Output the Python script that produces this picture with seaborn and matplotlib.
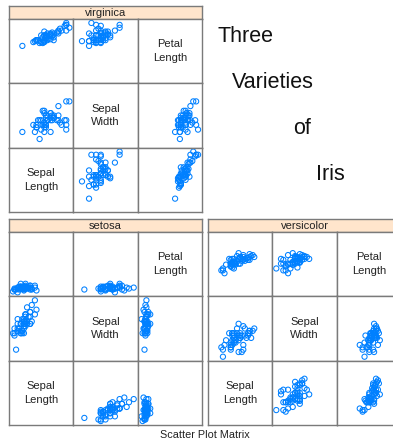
import matplotlib
matplotlib.use("Agg")
import matplotlib.pyplot as plt
import seaborn as sns
import pandas as pd

# Fisher's iris measurements (cm): first three variables, by species
setosa_sepal_length = [5.1, 4.9, 4.7, 4.6, 5.0, 5.4, 4.6, 5.0, 4.4, 4.9, 5.4, 4.8, 4.8, 4.3, 5.8, 5.7, 5.4, 5.1, 5.7, 5.1,
                       5.4, 5.1, 4.6, 5.1, 4.8, 5.0, 5.0, 5.2, 5.2, 4.7, 4.8, 5.4, 5.2, 5.5, 4.9, 5.0, 5.5, 4.9, 4.4, 5.1,
                       5.0, 4.5, 4.4, 5.0, 5.1, 4.8, 5.1, 4.6, 5.3, 5.0]
setosa_sepal_width = [3.5, 3.0, 3.2, 3.1, 3.6, 3.9, 3.4, 3.4, 2.9, 3.1, 3.7, 3.4, 3.0, 3.0, 4.0, 4.4, 3.9, 3.5, 3.8, 3.8,
                      3.4, 3.7, 3.6, 3.3, 3.4, 3.0, 3.4, 3.5, 3.4, 3.2, 3.1, 3.4, 4.1, 4.2, 3.1, 3.2, 3.5, 3.6, 3.0, 3.4,
                      3.5, 2.3, 3.2, 3.5, 3.8, 3.0, 3.8, 3.2, 3.7, 3.3]
setosa_petal_length = [1.4, 1.4, 1.3, 1.5, 1.4, 1.7, 1.4, 1.5, 1.4, 1.5, 1.5, 1.6, 1.4, 1.1, 1.2, 1.5, 1.3, 1.4, 1.7, 1.5,
                       1.7, 1.5, 1.0, 1.7, 1.9, 1.6, 1.6, 1.5, 1.4, 1.6, 1.6, 1.5, 1.5, 1.4, 1.5, 1.2, 1.3, 1.4, 1.3, 1.5,
                       1.3, 1.3, 1.3, 1.6, 1.9, 1.4, 1.6, 1.4, 1.5, 1.4]

versicolor_sepal_length = [7.0, 6.4, 6.9, 5.5, 6.5, 5.7, 6.3, 4.9, 6.6, 5.2, 5.0, 5.9, 6.0, 6.1, 5.6, 6.7, 5.6, 5.8, 6.2, 5.6,
                           5.9, 6.1, 6.3, 6.1, 6.4, 6.6, 6.8, 6.7, 6.0, 5.7, 5.5, 5.5, 5.8, 6.0, 5.4, 6.0, 6.7, 6.3, 5.6, 5.5,
                           5.5, 6.1, 5.8, 5.0, 5.6, 5.7, 5.7, 6.2, 5.1, 5.7]
versicolor_sepal_width = [3.2, 3.2, 3.1, 2.3, 2.8, 2.8, 3.3, 2.4, 2.9, 2.7, 2.0, 3.0, 2.2, 2.9, 2.9, 3.1, 3.0, 2.7, 2.2, 2.5,
                          3.2, 2.8, 2.5, 2.8, 2.9, 3.0, 2.8, 3.0, 2.9, 2.6, 2.4, 2.4, 2.7, 2.7, 3.0, 3.4, 3.1, 2.3, 3.0, 2.5,
                          2.6, 3.0, 2.6, 2.3, 2.7, 3.0, 2.9, 2.9, 2.5, 2.8]
versicolor_petal_length = [4.7, 4.5, 4.9, 4.0, 4.6, 4.5, 4.7, 3.3, 4.6, 3.9, 3.5, 4.2, 4.0, 4.7, 3.6, 4.4, 4.5, 4.1, 4.5, 3.9,
                           4.8, 4.0, 4.9, 4.7, 4.3, 4.4, 4.8, 5.0, 4.5, 3.5, 3.8, 3.7, 3.9, 5.1, 4.5, 4.5, 4.7, 4.4, 4.1, 4.0,
                           4.4, 4.6, 4.0, 3.3, 4.2, 4.2, 4.2, 4.3, 3.0, 4.1]

virginica_sepal_length = [6.3, 5.8, 7.1, 6.3, 6.5, 7.6, 4.9, 7.3, 6.7, 7.2, 6.5, 6.4, 6.8, 5.7, 5.8, 6.4, 6.5, 7.7, 7.7, 6.0,
                          6.9, 5.6, 7.7, 6.3, 6.7, 7.2, 6.2, 6.1, 6.4, 7.2, 7.4, 7.9, 6.4, 6.3, 6.1, 7.7, 6.3, 6.4, 6.0, 6.9,
                          6.7, 6.9, 5.8, 6.8, 6.7, 6.7, 6.3, 6.5, 6.2, 5.9]
virginica_sepal_width = [3.3, 2.7, 3.0, 2.9, 3.0, 3.0, 2.5, 2.9, 2.5, 3.6, 3.2, 2.7, 3.0, 2.5, 2.8, 3.2, 3.0, 3.8, 2.6, 2.2,
                         3.2, 2.8, 2.8, 2.7, 3.3, 3.2, 2.8, 3.0, 2.8, 3.0, 2.8, 3.8, 2.8, 2.8, 2.6, 3.0, 3.4, 3.1, 3.0, 3.1,
                         3.1, 3.1, 2.7, 3.2, 3.3, 3.0, 2.5, 3.0, 3.4, 3.0]
virginica_petal_length = [6.0, 5.1, 5.9, 5.6, 5.8, 6.6, 4.5, 6.3, 5.8, 6.1, 5.1, 5.3, 5.5, 5.0, 5.1, 5.3, 5.5, 6.7, 6.9, 5.0,
                          5.7, 4.9, 6.7, 4.9, 5.7, 6.0, 4.8, 4.9, 5.6, 5.8, 6.1, 6.4, 5.6, 5.1, 5.6, 6.1, 5.6, 5.5, 4.8, 5.4,
                          5.6, 5.1, 5.1, 5.9, 5.7, 5.2, 5.0, 5.2, 5.4, 5.1]

species = ["setosa", "versicolor", "virginica"]
variables = ["Sepal.Length", "Sepal.Width", "Petal.Length"]
var_labels = ["Sepal\nLength", "Sepal\nWidth", "Petal\nLength"]
title_words = ["Three", "Varieties", "of", "Iris"]
main_title = "Scatter Plot Matrix"

frames = []
for sp, sl, sw, pl in [
    ("setosa", setosa_sepal_length, setosa_sepal_width, setosa_petal_length),
    ("versicolor", versicolor_sepal_length, versicolor_sepal_width, versicolor_petal_length),
    ("virginica", virginica_sepal_length, virginica_sepal_width, virginica_petal_length),
]:
    frames.append(pd.DataFrame({"Species": sp, "Sepal.Length": sl, "Sepal.Width": sw, "Petal.Length": pl}))
iris = pd.concat(frames, ignore_index=True)

sns.set_style("white")
plt.rcParams["font.family"] = ["Liberation Sans", "DejaVu Sans"]

W, H = 393, 443
fig = plt.figure(figsize=(W / 100, H / 100), dpi=100)

# shared limits over all species, padded like lattice (7%)
limits = {}
for v in variables:
    lo, hi = iris[v].min(), iris[v].max()
    pad = 0.07 * (hi - lo)
    limits[v] = (lo - pad, hi + pad)

BORDER = "#7a7a7a"
POINT = "#0080ff"
STRIP = "#ffe5cc"


def px_axes(x, y, w, h, **kw):
    return fig.add_axes([x / W, 1 - (y + h) / H, w / W, h / H], **kw)


def draw_panel(sp, x0, y0, width, strip_h, body_h):
    # strip
    sax = px_axes(x0, y0, width, strip_h)
    sax.set_facecolor(STRIP)
    sax.set_xticks([]); sax.set_yticks([])
    for s in sax.spines.values():
        s.set_color(BORDER); s.set_linewidth(1.0)
    sax.text(0.5, 0.45, sp, ha="center", va="center", fontsize=8, color="#222222",
             transform=sax.transAxes)

    sub = iris[iris["Species"] == sp]
    cw = width / 3
    ch = body_h / 3
    row_vars = ["Petal.Length", "Sepal.Width", "Sepal.Length"]
    for r in range(3):
        for c in range(3):
            ax = px_axes(x0 + c * cw, y0 + strip_h + r * ch, cw, ch)
            xv, yv = variables[c], row_vars[r]
            ax.set_xlim(*limits[xv]); ax.set_ylim(*limits[yv])
            if xv == yv:
                ax.text(0.5, 0.5, var_labels[variables.index(xv)], ha="center", va="center",
                        fontsize=8, color="#222222", linespacing=1.45, transform=ax.transAxes)
            else:
                sns.scatterplot(data=sub, x=xv, y=yv, ax=ax, marker="o", s=14,
                                facecolors="none", edgecolor=POINT, linewidth=0.75,
                                legend=False)
            ax.set_xlabel(""); ax.set_ylabel("")
            ax.set_xticks([]); ax.set_yticks([])
            for s in ax.spines.values():
                s.set_color(BORDER); s.set_linewidth(1.0)


draw_panel("virginica", 9, 5.5, 193, 13.5, 193)
draw_panel("setosa", 9, 219, 193, 13, 193)
draw_panel("versicolor", 208, 219, 193, 13, 193)

# stacked title words
word_pos = [(218, 37), (232, 83), (293, 129), (316, 175)]
for word, (wx, wy) in zip(title_words, word_pos):
    fig.text(wx / W, 1 - wy / H, word, ha="left", va="center", fontsize=15.5, color="#111111")

fig.text(205 / W, 1 - 435 / H, main_title, ha="center", va="center", fontsize=7.8, color="#222222")

fig.savefig("out.png", dpi=100)
